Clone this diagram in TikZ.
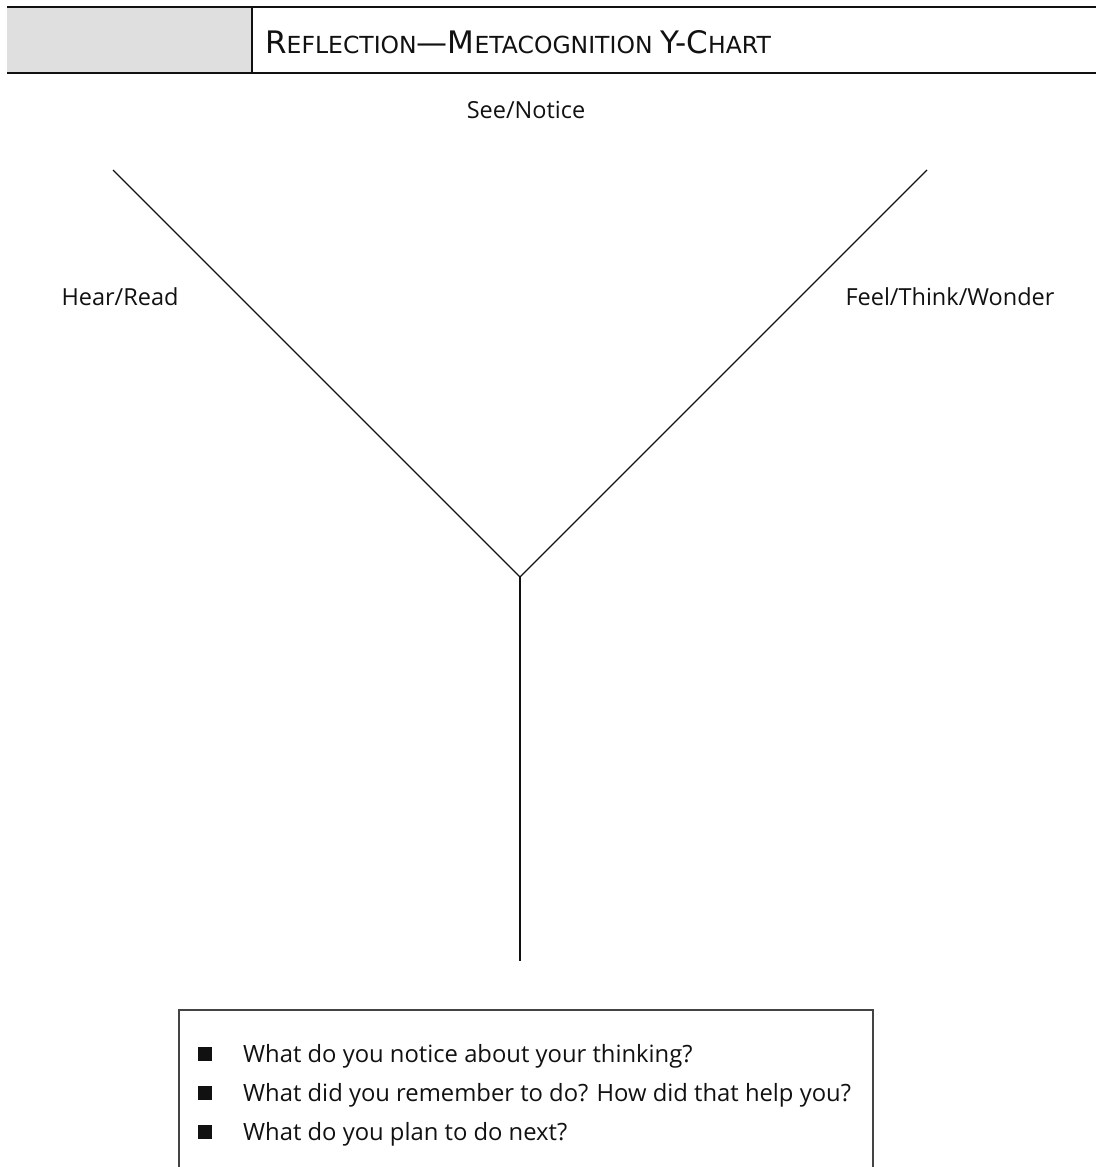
\documentclass[tikz,border=0pt]{standalone}
\usepackage{fontspec}
\setmainfont{Open Sans}
\newfontfamily\headfont{DejaVu Sans}
\usetikzlibrary{positioning}
\definecolor{ink}{HTML}{111111}
\definecolor{boxline}{HTML}{444444}
\definecolor{headgray}{HTML}{DFDFDF}
\newcommand{\capbig}[1]{{\fontsize{31}{31}\selectfont #1}}
\newcommand{\capsmall}[1]{{\fontsize{23.5}{23.5}\selectfont #1}}

\begin{document}
\begin{tikzpicture}[x=1pt,y=-1pt]
    \tikzset{
      armline/.style={draw=ink,line width=1.2pt},
      frame/.style={draw=ink,line width=1.4pt},
      label/.style={font=\fontsize{23.5}{28}\selectfont,text=ink,inner sep=0pt},
      qline/.style={font=\fontsize{23.8}{28}\selectfont,text=ink,anchor=base west,inner sep=0pt},
      qmark/.style={fill=ink,minimum size=14pt,inner sep=0pt}
    }
    \useasboundingbox (0,0) rectangle (1096,1167);
    % header bar
    \fill[headgray] (7,7) rectangle (252,73);
    \draw[frame] (7,7) -- (1096,7);
    \draw[frame] (7,73) -- (1096,73);
    \draw[frame] (252,7) -- (252,73);
    \node[anchor=base west,inner sep=0pt,text=ink,font=\headfont] (title) at (265,53)
      {\capbig{R}\capsmall{EFLECTION}\capbig{—M}\capsmall{ETACOGNITION \/}\capbig{Y-C}\capsmall{HART}};
    % the Y
    \coordinate (hub) at (520,577);
    \coordinate (lefttip) at (113,170);
    \coordinate (righttip) at (927,170);
    \coordinate (foot) at (520,961);
    \draw[armline] (lefttip) -- (hub);
    \draw[armline] (righttip) -- (hub);
    \draw[armline] (hub) -- (foot);
    \node[label] (see) at (526,110) {See/Notice};
    \node[label] (hear) at (120,297) {Hear/Read};
    \node[label] (feel) at (950,297) {Feel/Think/Wonder};
    % question box
    \coordinate (boxbl) at (179,1167);
    \coordinate (boxtl) at (179,1010);
    \coordinate (boxtr) at (873,1010);
    \coordinate (boxbr) at (873,1167);
    \draw[draw=boxline,line width=1.5pt] (boxbl) -- (boxtl) -- (boxtr) -- (boxbr);
    \node[qmark] (m1) at (205,1054) {};
    \node[qmark] (m2) at (205,1093) {};
    \node[qmark] (m3) at (205,1132) {};
    \node[qline] (q1) at (243,1062) {What do you notice about your thinking?};
    \node[qline] (q2) at (243,1101) {What did you remember to do? How did that help you?};
    \node[qline] (q3) at (243,1140) {What do you plan to do next?};
\end{tikzpicture}
\end{document}
